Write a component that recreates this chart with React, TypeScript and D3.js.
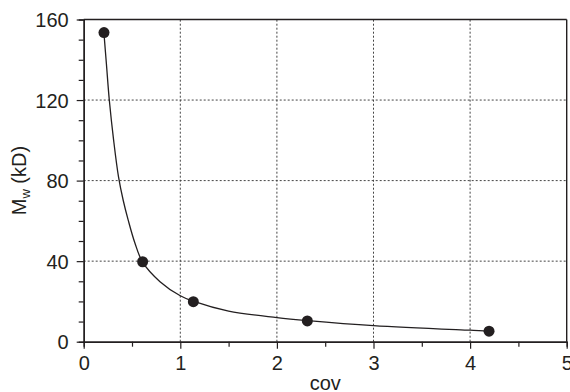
import React, { useRef, useEffect } from "react";
import { select, scaleLinear, axisBottom, axisLeft, line, curveCatmullRom, range, format } from "d3";

// measured points
const covValues = [0.21, 0.61, 1.135, 2.315, 4.196];
const mwValues = [153.5, 39.7, 19.9, 10.3, 5.2];

// fitted curve
const fitCov = [0.21, 0.235, 0.265, 0.31, 0.36, 0.41, 0.46, 0.53, 0.61, 0.79, 1.0, 1.14, 1.5, 2.0, 2.32, 3.0, 4.0, 4.2];
const fitMw = [153, 138, 120, 100, 82, 70, 60.5, 49, 39.5, 29.8, 22.8, 20, 15.2, 12, 10.5, 8, 5.7, 5.3];

const xTickLabels = [0, 1, 2, 3, 4, 5];
const yTickLabels = [0, 40, 80, 120, 160];

const W = 570;
const H = 392;
const margin = { top: 19.5, right: 3.3, bottom: 50.3, left: 83.7 };
const ink = "#231f20";
const font = "Liberation Sans, Arial, Helvetica, sans-serif";

function App() {
  const svgRef = useRef<SVGSVGElement>(null);

  useEffect(() => {
    const svg = select(svgRef.current);
    svg.selectAll("*").remove();

    const xScale = scaleLinear()
      .domain([0, 5])
      .range([margin.left, W - margin.right]);
    const yScale = scaleLinear()
      .domain([0, 160])
      .range([H - margin.bottom, margin.top]);

    const x0 = xScale(0), x1 = xScale(5);
    const y0 = yScale(0), y1 = yScale(160);

    // dotted grid
    const grid = svg.append("g");
    xTickLabels.slice(1, -1).forEach(v => {
      grid.append("line")
        .attr("x1", xScale(v)).attr("x2", xScale(v))
        .attr("y1", y0).attr("y2", y1)
        .attr("stroke", "#444").attr("stroke-width", 1).attr("stroke-dasharray", "2,2");
    });
    yTickLabels.slice(1, -1).forEach(v => {
      grid.append("line")
        .attr("x1", x0).attr("x2", x1)
        .attr("y1", yScale(v)).attr("y2", yScale(v))
        .attr("stroke", "#444").attr("stroke-width", 1).attr("stroke-dasharray", "2,2");
    });

    // minor ticks
    const minorX = svg.append("g").attr("transform", `translate(0,${y0})`)
      .call(axisBottom(xScale).tickValues(range(0.5, 5, 1)).tickSize(5).tickFormat(() => ""));
    const minorY = svg.append("g").attr("transform", `translate(${x0},0)`)
      .call(axisLeft(yScale).tickValues(range(10, 160, 10).filter(v => v % 40 !== 0)).tickSize(5).tickFormat(() => ""));

    // major axes
    const xAxis = svg.append("g").attr("transform", `translate(0,${y0})`)
      .call(axisBottom(xScale).tickValues(xTickLabels).tickFormat(format("d")).tickSize(7).tickPadding(7).tickSizeOuter(0));
    const yAxis = svg.append("g").attr("transform", `translate(${x0},0)`)
      .call(axisLeft(yScale).tickValues(yTickLabels).tickFormat(format("d")).tickSize(7).tickPadding(8).tickSizeOuter(0));

    [minorX, minorY, xAxis, yAxis].forEach(g => {
      g.selectAll("path").attr("stroke", ink).attr("stroke-width", 1.4);
      g.selectAll("line").attr("stroke", ink).attr("stroke-width", 1.2);
      g.selectAll("text").attr("fill", ink).style("font-family", font).style("font-size", "20px");
    });
    yAxis.selectAll("text").attr("dy", "0.36em");

    // frame top and right
    svg.append("line").attr("x1", x0).attr("x2", x1).attr("y1", y1).attr("y2", y1)
      .attr("stroke", ink).attr("stroke-width", 1.4);
    svg.append("line").attr("x1", x1).attr("x2", x1).attr("y1", y1).attr("y2", y0)
      .attr("stroke", ink).attr("stroke-width", 1.4);

    // fitted curve
    const fit = fitCov.map((c, i) => [c, fitMw[i]] as [number, number]);
    const curve = line<[number, number]>()
      .x(d => xScale(d[0]))
      .y(d => yScale(d[1]))
      .curve(curveCatmullRom.alpha(0.5));
    svg.append("path")
      .datum(fit)
      .attr("d", curve)
      .attr("fill", "none")
      .attr("stroke", ink)
      .attr("stroke-width", 1.3);

    // points
    svg.selectAll(".pt")
      .data(covValues)
      .join("circle")
      .attr("class", "pt")
      .attr("cx", c => xScale(c))
      .attr("cy", (c, i) => yScale(mwValues[i]))
      .attr("r", 5.5)
      .attr("fill", ink);

    // axis titles
    svg.append("text")
      .attr("x", (x0 + x1) / 2)
      .attr("y", 390)
      .attr("text-anchor", "middle")
      .attr("fill", ink)
      .style("font-family", font)
      .style("font-size", "20px")
      .text("cov");

    const yt = svg.append("text")
      .attr("transform", `translate(26,${(y0 + y1) / 2}) rotate(-90)`)
      .attr("text-anchor", "middle")
      .attr("fill", ink)
      .style("font-family", font)
      .style("font-size", "20px");
    yt.append("tspan").text("M");
    yt.append("tspan").attr("dy", 4).style("font-size", "13px").text("w");
    yt.append("tspan").attr("dy", -4).text(" (kD)");
  }, []);

  return (
    <svg
      ref={svgRef}
      width={W}
      height={H}
      style={{ position: "absolute", left: 0, top: 0, background: "#fff" }}
    />
  );
}

export default App;
